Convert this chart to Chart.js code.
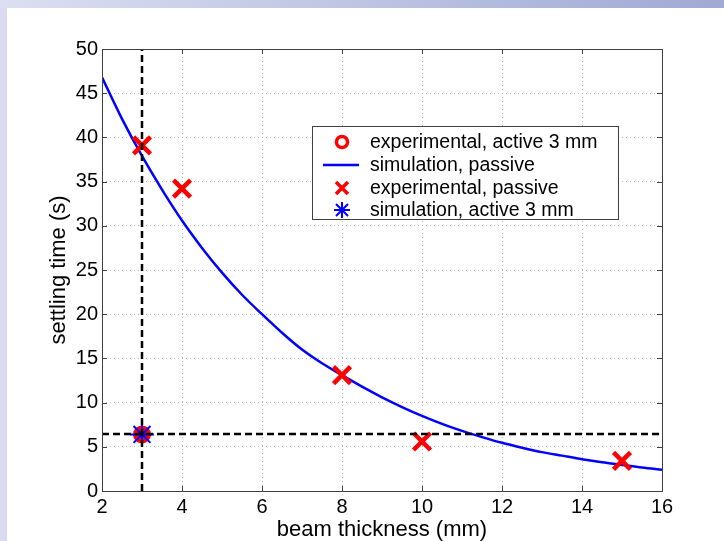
<!DOCTYPE html>
<html>
<head>
<meta charset="utf-8">
<script src="https://cdn.jsdelivr.net/npm/chart.js@4"></script>
<style>
  html, body { margin: 0; padding: 0; background: #fff; }
  #wrap { position: relative; width: 724px; height: 541px; overflow: hidden; }
  #topband { position: absolute; left: 0; top: 0; width: 724px; height: 8px;
             background: linear-gradient(to right, #dcdff0, #9fa9d4); }
  #leftband { position: absolute; left: 0; top: 8px; width: 7px; height: 533px; background: #d8dbef; }
  canvas { position: absolute; left: 0; top: 0; }
</style>
</head>
<body>
<div id="wrap">
  <div id="topband"></div>
  <div id="leftband"></div>
  <canvas id="settlingChart" width="724" height="541"></canvas>
</div>
<script>
// settling time vs beam thickness

const simThickness = [2, 2.5, 3, 3.5, 4, 4.5, 5, 5.5, 6, 6.5, 7, 7.5, 8, 8.5, 9, 9.5,
                      10, 10.5, 11, 11.5, 12, 12.5, 13, 13.5, 14, 14.5, 15, 15.5, 16];
const simPassive = [46.8, 42.1, 37.9, 34.1, 30.6, 27.5, 24.7, 22.2, 20.0, 17.9, 16.0, 14.45, 13.1, 11.8, 10.6, 9.5,
                    8.5, 7.6, 6.8, 6.1, 5.45, 4.9, 4.4, 4.0, 3.6, 3.25, 2.95, 2.65, 2.4];

const expThickness = [3, 4, 8, 10, 15];
const expPassive = [39.1, 34.2, 13.1, 5.6, 3.4];

const activeThickness = [3];
const expActive = [6.4];
const simActive = [6.4];

// dashed reference lines
const refThickness = 3;
const refTime = 6.45;

const xTicks = [2, 4, 6, 8, 10, 12, 14, 16];
const yTicks = [0, 5, 10, 15, 20, 25, 30, 35, 40, 45, 50];

const FONT = "'Liberation Sans', Arial, sans-serif";

function pts(xs, ys) {
    return xs.map((x, i) => ({ x: x, y: ys[i] }));
}

// frame + inward ticks + legend
const matlabAxes = {
    id: 'matlabAxes',
    afterDatasetsDraw(chart) {
        const ctx = chart.ctx;
        const a = chart.chartArea;
        const xs = chart.scales.x, ys = chart.scales.y;
        ctx.save();
        ctx.strokeStyle = '#404040';
        ctx.lineWidth = 1;
        ctx.beginPath();
        xTicks.forEach(v => {
            const px = Math.round(xs.getPixelForValue(v)) + 0.5;
            ctx.moveTo(px, a.bottom); ctx.lineTo(px, a.bottom - 5);
            ctx.moveTo(px, a.top); ctx.lineTo(px, a.top + 5);
        });
        yTicks.forEach(v => {
            const py = Math.round(ys.getPixelForValue(v)) + 0.5;
            ctx.moveTo(a.left, py); ctx.lineTo(a.left + 5, py);
            ctx.moveTo(a.right, py); ctx.lineTo(a.right - 5, py);
        });
        ctx.stroke();
        ctx.strokeRect(Math.round(a.left) + 0.5, Math.round(a.top) + 0.5,
                       Math.round(a.right - a.left), Math.round(a.bottom - a.top));

        // legend box
        const bx = 312, by = 126, bw = 306, bh = 93;
        ctx.fillStyle = '#fff';
        ctx.fillRect(bx, by, bw, bh);
        ctx.strokeStyle = '#404040';
        ctx.strokeRect(bx + 0.5, by + 0.5, bw, bh);

        const sx = 342, tx = 370;
        const rows = [142, 165, 188, 210];
        const labels = ['experimental, active 3 mm', 'simulation, passive',
                        'experimental, passive', 'simulation, active 3 mm'];

        // red ring
        ctx.strokeStyle = '#ff0000';
        ctx.lineWidth = 3.5;
        ctx.beginPath();
        ctx.arc(sx, rows[0], 5.5, 0, Math.PI * 2);
        ctx.stroke();
        // blue line
        ctx.strokeStyle = '#0000ff';
        ctx.lineWidth = 2.5;
        ctx.beginPath();
        ctx.moveTo(323, rows[1]); ctx.lineTo(359, rows[1]);
        ctx.stroke();
        // red cross
        ctx.strokeStyle = '#ff0000';
        ctx.lineWidth = 3.5;
        ctx.beginPath();
        ctx.moveTo(sx - 6, rows[2] - 6); ctx.lineTo(sx + 6, rows[2] + 6);
        ctx.moveTo(sx + 6, rows[2] - 6); ctx.lineTo(sx - 6, rows[2] + 6);
        ctx.stroke();
        // blue star
        ctx.strokeStyle = '#0000ff';
        ctx.lineWidth = 2;
        ctx.beginPath();
        ctx.moveTo(sx, rows[3] - 8); ctx.lineTo(sx, rows[3] + 8);
        ctx.moveTo(sx - 8, rows[3]); ctx.lineTo(sx + 8, rows[3]);
        ctx.moveTo(sx - 6, rows[3] - 6); ctx.lineTo(sx + 6, rows[3] + 6);
        ctx.moveTo(sx + 6, rows[3] - 6); ctx.lineTo(sx - 6, rows[3] + 6);
        ctx.stroke();

        ctx.fillStyle = '#000';
        ctx.font = '19.5px ' + FONT;
        ctx.textBaseline = 'middle';
        ctx.textAlign = 'left';
        labels.forEach((t, i) => ctx.fillText(t, tx, rows[i] + 1));
        ctx.restore();
    }
};

const ctx = document.getElementById('settlingChart');
new Chart(ctx, {
    type: 'scatter',
    data: {
        datasets: [
            {
                label: 'simulation, passive',
                type: 'line',
                data: pts(simThickness, simPassive),
                borderColor: '#0000ff',
                borderWidth: 2.5,
                pointRadius: 0,
                cubicInterpolationMode: 'monotone',
                fill: false,
                order: 5
            },
            {
                label: 'experimental, passive',
                data: pts(expThickness, expPassive),
                pointStyle: 'crossRot',
                pointRadius: 12,
                borderColor: '#ff0000',
                borderWidth: 4.5,
                order: 4
            },
            {
                label: 'experimental, active 3 mm',
                data: pts(activeThickness, expActive),
                pointStyle: 'circle',
                pointRadius: 7,
                borderColor: '#ff0000',
                backgroundColor: '#ff0000',
                borderWidth: 4,
                order: 3
            },
            {
                label: 'simulation, active 3 mm',
                data: pts(activeThickness, simActive),
                pointStyle: 'star',
                pointRadius: 12,
                borderColor: '#0000ff',
                borderWidth: 2,
                order: 2
            },
            {
                label: 'ref-v',
                type: 'line',
                data: [{ x: refThickness, y: 0 }, { x: refThickness, y: 50 }],
                borderColor: '#000',
                borderWidth: 2.5,
                borderDash: [7, 4],
                pointRadius: 0,
                order: 1
            },
            {
                label: 'ref-h',
                type: 'line',
                data: [{ x: 2, y: refTime }, { x: 16, y: refTime }],
                borderColor: '#000',
                borderWidth: 2.5,
                borderDash: [7, 4],
                pointRadius: 0,
                order: 1
            }
        ]
    },
    options: {
        responsive: false,
        animation: false,
        layout: { padding: { top: 49, right: 62, left: 0, bottom: 0 } },
        plugins: { legend: { display: false }, tooltip: { enabled: false } },
        scales: {
            x: {
                type: 'linear',
                min: 2, max: 16,
                afterBuildTicks: s => { s.ticks = xTicks.map(v => ({ value: v })); },
                afterFit: s => { s.height = 50; },
                grid: { color: '#b8b8b8', drawTicks: false },
                border: { display: false, dash: [1, 3] },
                ticks: { color: '#000', font: { family: FONT, size: 20 }, padding: 4, maxRotation: 0 },
                title: { display: true, text: 'beam thickness (mm)', color: '#000',
                         font: { family: FONT, size: 22, lineHeight: 1 }, padding: { top: 0, bottom: 0 } }
            },
            y: {
                type: 'linear',
                min: 0, max: 50,
                afterBuildTicks: s => { s.ticks = yTicks.map(v => ({ value: v })); },
                afterFit: s => { s.width = 102; },
                grid: { color: '#b8b8b8', drawTicks: false },
                border: { display: false, dash: [1, 3] },
                ticks: { color: '#000', font: { family: FONT, size: 20 }, padding: 4 },
                title: { display: true, text: 'settling time (s)', color: '#000',
                         font: { family: FONT, size: 22, lineHeight: 1 }, padding: { top: 48, bottom: 0 } }
            }
        }
    },
    plugins: [matlabAxes]
});
</script>
</body>
</html>
